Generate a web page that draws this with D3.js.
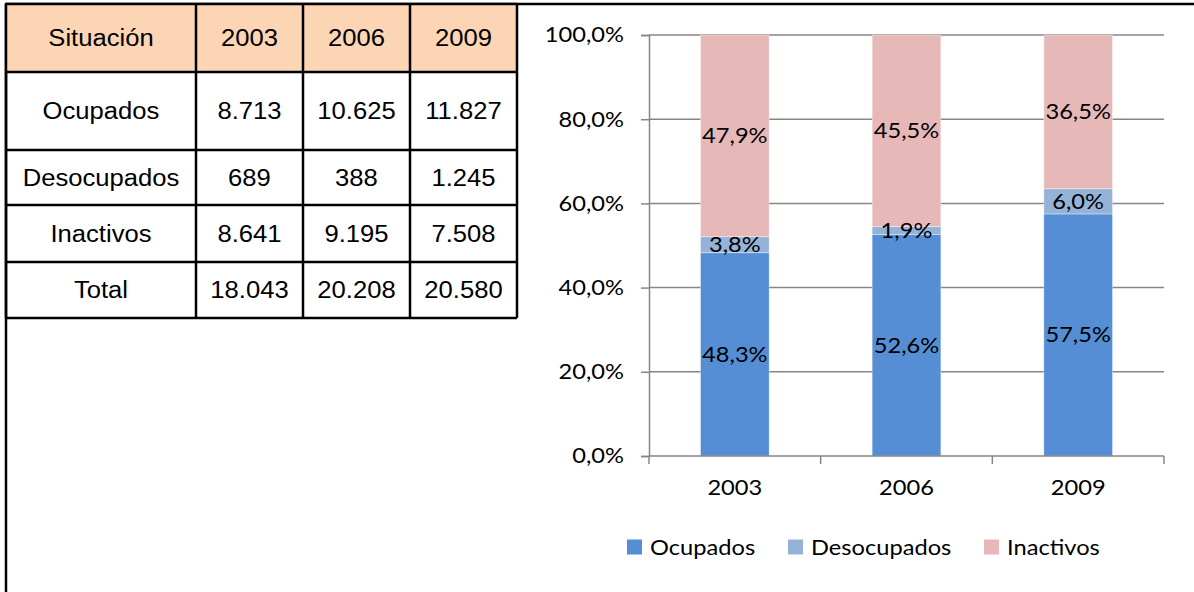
<!DOCTYPE html>
<html>
<head>
<meta charset="utf-8">
<script src="https://cdn.jsdelivr.net/npm/d3@7"></script>
<style>
  body { margin: 0; background: #fff; }
  svg { display: block; }
</style>
</head>
<body>
<div class="chart"></div>
<script>
// table data
const tableHeader = ["Situación", "2003", "2006", "2009"]
const tableRows = [
  ["Ocupados", "8.713", "10.625", "11.827"],
  ["Desocupados", "689", "388", "1.245"],
  ["Inactivos", "8.641", "9.195", "7.508"],
  ["Total", "18.043", "20.208", "20.580"],
]

// chart data (percent of total)
const years = ["2003", "2006", "2009"]
const seriesNames = ["Ocupados", "Desocupados", "Inactivos"]
const ocupados = [48.3, 52.6, 57.5]
const desocupados = [3.8, 1.9, 6.0]
const inactivos = [47.9, 45.5, 36.5]
const yTicks = [0, 20, 40, 60, 80, 100]

const colors = ["#558ed5", "#95b3d7", "#e6b9b8"]

const width = 1194
const height = 592

const svg = d3.select(".chart")
  .append("svg")
  .attr("width", width)
  .attr("height", height)

// text in the picture is a bit wider than the fonts here
function stretch(sel, k) {
  sel.each(function () {
    const w = this.getComputedTextLength()
    d3.select(this)
      .attr("textLength", w * k)
      .attr("lengthAdjust", "spacingAndGlyphs")
  })
}

// ---------- frame ----------
svg.append("line")
  .attr("x1", 5).attr("x2", width)
  .attr("y1", 4).attr("y2", 4)
  .attr("stroke", "#000").attr("stroke-width", 2.5)
svg.append("line")
  .attr("x1", 6).attr("x2", 6)
  .attr("y1", 3).attr("y2", height)
  .attr("stroke", "#000").attr("stroke-width", 2.5)

// ---------- table ----------
const colEdges = [6, 196, 303, 410, 517]
const rowEdges = [4, 72, 150, 205, 262, 318]
const tableFont = "'Liberation Sans', Arial, sans-serif"

const table = svg.append("g")

table.append("rect")
  .attr("x", colEdges[0])
  .attr("y", rowEdges[0])
  .attr("width", colEdges[4] - colEdges[0])
  .attr("height", rowEdges[1] - rowEdges[0])
  .attr("fill", "#fcd5b5")

const allRows = [tableHeader, ...tableRows]
allRows.forEach((row, i) => {
  const yMid = (rowEdges[i] + rowEdges[i + 1]) / 2
  table.selectAll(null)
    .data(row)
    .enter().append("text")
    .attr("x", (d, j) => (colEdges[j] + colEdges[j + 1]) / 2)
    .attr("y", yMid)
    .attr("dy", "0.36em")
    .attr("text-anchor", "middle")
    .style("font-family", tableFont)
    .style("font-size", "23.5px")
    .attr("fill", "#000")
    .text(d => d)
    .call(stretch, 1.09)
})

table.selectAll(".hline")
  .data(rowEdges)
  .enter().append("line")
  .attr("x1", colEdges[0]).attr("x2", colEdges[4])
  .attr("y1", d => d).attr("y2", d => d)
  .attr("stroke", "#000").attr("stroke-width", 2.5)

table.selectAll(".vline")
  .data(colEdges)
  .enter().append("line")
  .attr("x1", d => d).attr("x2", d => d)
  .attr("y1", rowEdges[0]).attr("y2", rowEdges[5])
  .attr("stroke", "#000").attr("stroke-width", 2.5)

// ---------- chart ----------
const chartFont = "Lato, 'Open Sans', sans-serif"
const plot = { left: 649, right: 1164, top: 35, bottom: 456 }

const xScale = d3.scaleBand()
  .domain(years)
  .range([plot.left, plot.right])
  .padding(0)

const yScale = d3.scaleLinear()
  .domain([0, 100])
  .range([plot.bottom, plot.top])

const fmt = v => d3.format(".1f")(v).replace(".", ",") + "%"

// gridlines
svg.append("g")
  .selectAll("line")
  .data(yTicks.filter(d => d > 0))
  .enter().append("line")
  .attr("x1", plot.left).attr("x2", plot.right)
  .attr("y1", d => yScale(d)).attr("y2", d => yScale(d))
  .attr("stroke", "#868686").attr("stroke-width", 1.5)

// stacked bars
const rows = years.map((y, i) => ({
  year: y,
  Ocupados: ocupados[i],
  Desocupados: desocupados[i],
  Inactivos: inactivos[i],
}))
const stack = d3.stack().keys(seriesNames)(rows)

const barW = xScale.bandwidth() * 0.4

const layers = svg.append("g")
  .selectAll("g")
  .data(stack)
  .enter().append("g")
  .attr("fill", (d, i) => colors[i])

layers.selectAll("rect")
  .data(d => d)
  .enter().append("rect")
  .attr("x", d => xScale(d.data.year) + (xScale.bandwidth() - barW) / 2)
  .attr("width", barW)
  .attr("y", d => yScale(d[1]))
  .attr("height", d => yScale(d[0]) - yScale(d[1]))
  .attr("stroke", "rgba(255,255,255,0.35)")
  .attr("stroke-width", 1)

// data labels
stack.forEach(layer => {
  svg.append("g")
    .selectAll("text")
    .data(layer)
    .enter().append("text")
    .attr("x", d => xScale(d.data.year) + xScale.bandwidth() / 2)
    .attr("y", d => yScale((d[0] + d[1]) / 2))
    .attr("dy", "0.35em")
    .attr("text-anchor", "middle")
    .style("font-family", chartFont)
    .style("font-size", "21.5px")
    .attr("fill", "#000")
    .text(d => fmt(d[1] - d[0]))
    .call(stretch, 1.1)
})

// y axis
const yAxisGenerator = d3.axisLeft(yScale)
  .tickValues(yTicks)
  .tickSize(8)
  .tickPadding(17)
  .tickFormat(fmt)

const yAxis = svg.append("g")
  .attr("transform", `translate(${plot.left},0)`)
  .call(yAxisGenerator)
yAxis.select(".domain").attr("stroke", "#868686").attr("stroke-width", 1.5)
yAxis.selectAll(".tick line").attr("stroke", "#868686").attr("stroke-width", 1.5)
yAxis.selectAll(".tick text")
  .style("font-family", chartFont)
  .style("font-size", "21.5px")
  .attr("fill", "#000")
  .call(stretch, 1.1)

// x axis
const xAxisGenerator = d3.axisBottom(xScale)
  .tickSize(0)
  .tickPadding(24)

const xAxis = svg.append("g")
  .attr("transform", `translate(0,${plot.bottom})`)
  .call(xAxisGenerator)
xAxis.select(".domain").remove()
xAxis.selectAll(".tick text")
  .style("font-family", chartFont)
  .style("font-size", "21.5px")
  .attr("fill", "#000")
  .call(stretch, 1.1)

xAxis.append("line")
  .attr("x1", plot.left).attr("x2", plot.right)
  .attr("stroke", "#868686").attr("stroke-width", 1.5)

const boundaries = years.map(d => xScale(d)).concat([xScale.range()[1]])
xAxis.selectAll(".bound")
  .data(boundaries)
  .enter().append("line")
  .attr("x1", d => d).attr("x2", d => d)
  .attr("y1", 0).attr("y2", 8)
  .attr("stroke", "#868686").attr("stroke-width", 1.5)

// legend
const legendX = [627, 788, 984]
const legend = svg.append("g")
  .attr("transform", "translate(0,547)")
const items = legend.selectAll("g")
  .data(seriesNames)
  .enter().append("g")
  .attr("transform", (d, i) => `translate(${legendX[i]},0)`)
items.append("rect")
  .attr("x", 0).attr("y", -7.5)
  .attr("width", 15).attr("height", 15)
  .attr("fill", (d, i) => colors[i])
items.append("text")
  .attr("x", 23)
  .attr("dy", "0.35em")
  .style("font-family", chartFont)
  .style("font-size", "21.5px")
  .attr("fill", "#000")
  .text(d => d)
  .call(stretch, 1.1)
</script>
</body>
</html>
